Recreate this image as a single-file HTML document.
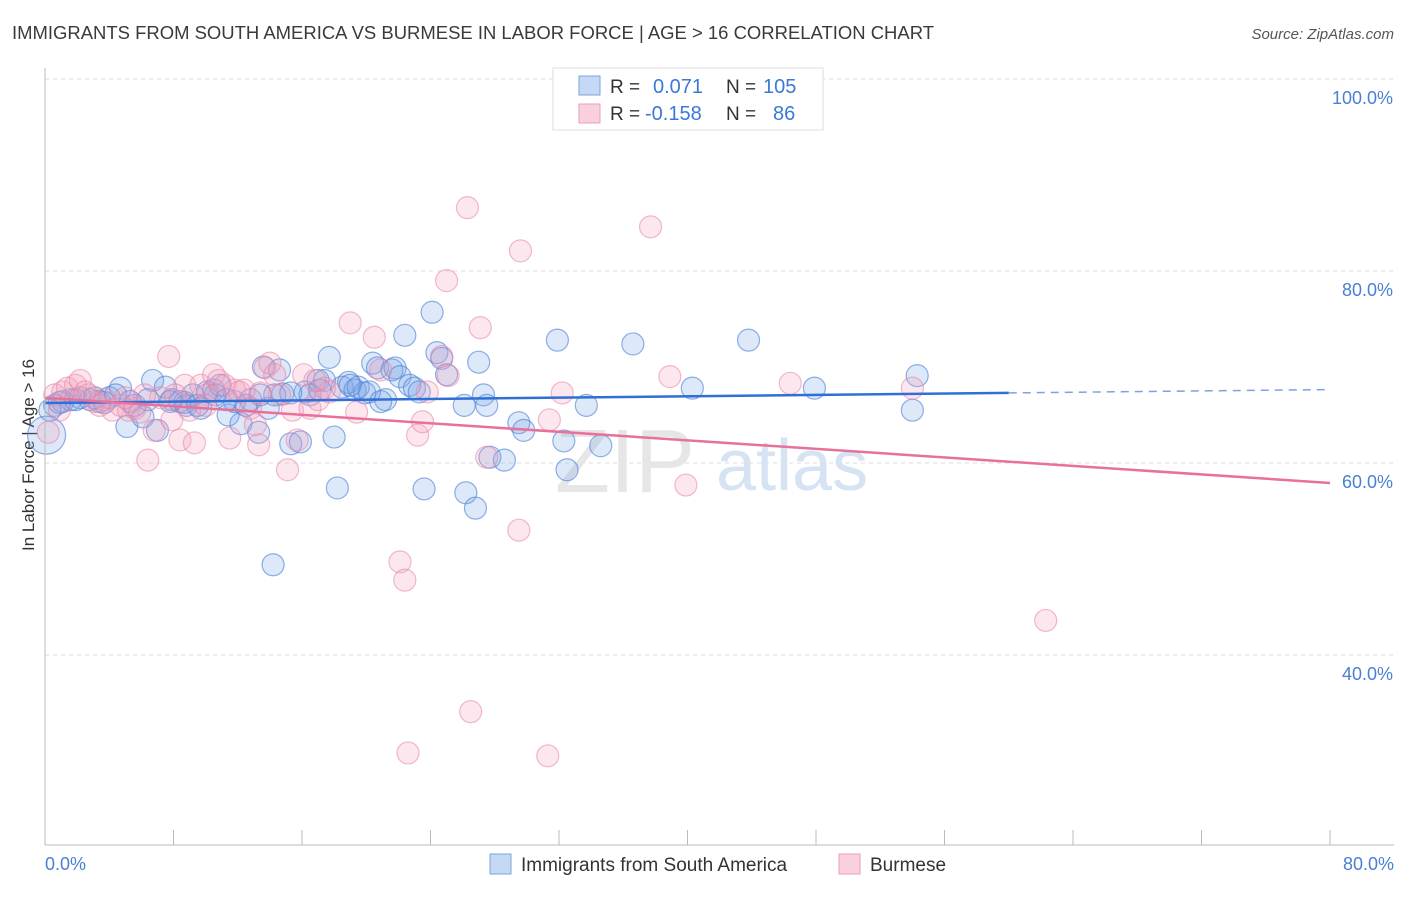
<!DOCTYPE html>
<html><head><meta charset="utf-8">
<style>
body{margin:0;background:#fff;font-family:"Liberation Sans",sans-serif;}
svg text{font-family:"Liberation Sans",sans-serif;}
</style></head>
<body>
<svg id="chart" width="1406" height="892" xmlns="http://www.w3.org/2000/svg">
<text x="12" y="39" font-size="18" fill="#3a3a3a" textLength="922" lengthAdjust="spacingAndGlyphs">IMMIGRANTS FROM SOUTH AMERICA VS BURMESE IN LABOR FORCE | AGE &gt; 16 CORRELATION CHART</text>
<text x="1394" y="39" font-size="15" fill="#555" font-style="italic" text-anchor="end">Source: ZipAtlas.com</text>
<text transform="translate(34,455) rotate(-90)" font-size="17" fill="#333" text-anchor="middle">In Labor Force | Age &gt; 16</text>
<g id="grid"></g>
<g><text x="555" y="492" font-size="90" fill="#e6e6e6" font-family="Liberation Serif,serif">ZIP</text><text x="716" y="490" font-size="72" fill="#d5e3f3">atlas</text></g>
<g id="pts"></g>
<g id="lines"></g>
<line x1="45" y1="68" x2="45" y2="845" stroke="#bbb"/>
<line x1="45" y1="845" x2="1394" y2="845" stroke="#bbb"/>
<g id="ticks"></g>
<text x="45" y="870" font-size="18" fill="#4a7fd4">0.0%</text>
<text x="1394" y="870" font-size="18" fill="#4a7fd4" text-anchor="end">80.0%</text>
<g>
<rect x="553" y="68" width="270" height="62" fill="#fff" stroke="#ddd"/>
<rect x="579" y="76" width="21" height="19" fill="#c5d9f5" stroke="#7aa3e0"/>
<rect x="579" y="104" width="21" height="19" fill="#f9d0dc" stroke="#eba1b9"/>
<text x="610" y="93" font-size="19" fill="#333">R =</text>
<text x="653" y="93" font-size="20" fill="#3b78d8">0.071</text>
<text x="726" y="93" font-size="19" fill="#333">N =</text>
<text x="763" y="93" font-size="20" fill="#3b78d8">105</text>
<text x="610" y="120" font-size="19" fill="#333">R =</text>
<text x="645" y="120" font-size="20" fill="#3b78d8">-0.158</text>
<text x="726" y="120" font-size="19" fill="#333">N =</text>
<text x="773" y="120" font-size="20" fill="#3b78d8">86</text>
</g>
<g>
<rect x="490" y="854" width="21" height="20" fill="#c5d9f5" stroke="#7aa3e0"/>
<text x="521" y="871" font-size="19" fill="#333">Immigrants from South America</text>
<rect x="839" y="854" width="21" height="20" fill="#f9d0dc" stroke="#eba1b9"/>
<text x="870" y="871" font-size="19" fill="#333">Burmese</text>
</g>
</svg>
<script>
const yTicks=[100,80,60,40];
const yTickLabels=["100.0%","80.0%","60.0%","40.0%"];
const xTicks=[0,8,16,24,32,40,48,56,64,72,80];
const blueX=[0.6,1.1,1.6,2.2,2.8,3.4,4.0,4.7,5.1,5.6,6.1,6.7,7.0,7.5,7.9,8.4,8.8,9.2,9.7,10.1,10.5,10.9,11.4,11.8,12.2,12.8,13.3,13.6,13.9,14.6,14.8,15.3,15.9,16.2,17.0,17.4,17.7,18.0,18.2,18.5,18.9,19.3,19.5,19.9,20.4,20.7,21.2,21.6,21.8,22.1,22.4,22.7,23.0,23.3,23.6,24.1,24.4,24.7,25.0,26.1,26.2,26.8,27.0,27.3,27.5,27.7,28.6,29.5,29.8,31.9,32.3,32.5,33.7,34.6,36.6,40.3,43.8,47.9,54.0,54.3,14.2,0.3,0.9,1.9,3.1,3.7,4.4,5.3,6.4,7.8,8.7,9.5,10.6,12.5,14.3,16.5,19.0,20.2,20.9,0.1,17.1,15.3,13.4,11.3];
const blueY=[66.0,66.4,66.6,66.8,66.6,66.4,66.8,67.8,63.8,66.0,64.8,68.6,63.4,67.9,66.6,66.4,66.0,67.1,65.7,67.4,67.6,68.1,65.0,66.4,64.1,66.6,63.2,70.0,65.7,69.7,67.2,62.0,62.2,67.4,68.6,68.6,71.0,62.7,57.4,67.9,68.4,67.6,67.9,67.3,70.4,69.9,66.6,69.7,69.9,69.0,73.3,68.1,67.8,67.4,57.3,75.7,71.5,70.9,69.2,66.0,56.9,55.3,70.5,67.1,66.0,60.6,60.3,64.2,63.4,72.8,62.3,59.3,66.0,61.8,72.4,67.8,72.8,67.8,65.5,69.1,49.4,65.5,66.3,66.6,66.8,66.3,67.1,66.4,66.6,66.4,66.3,66.0,67.1,66.0,67.1,67.1,68.1,67.4,66.4,62.9,67.6,67.3,67.1,66.6];
const pinkX=[0.2,0.6,1.1,1.4,1.9,2.2,2.7,3.1,3.7,4.2,4.7,5.2,5.6,5.9,6.4,6.8,7.2,7.7,7.9,8.4,8.7,9.0,9.3,9.7,10.1,10.5,10.8,11.2,11.5,11.8,12.1,12.4,12.8,13.1,13.3,13.7,14.0,14.3,14.6,15.1,15.4,15.7,16.1,16.5,17.0,17.4,17.7,19.0,19.4,20.5,20.9,22.1,22.4,22.6,23.2,23.5,23.8,24.7,25.0,25.1,26.3,26.5,27.1,27.5,29.5,29.6,31.3,31.4,32.2,37.7,38.9,39.9,46.4,54.0,62.3,0.9,2.5,3.4,5.0,6.2,8.1,10.0,13.4,16.8];
const pinkY=[63.2,67.1,67.4,67.8,68.1,68.6,67.1,66.4,66.6,65.5,66.0,65.5,65.7,65.3,60.3,63.4,66.8,71.1,64.5,62.4,68.1,65.5,62.1,68.1,67.1,69.2,68.6,68.1,62.6,67.6,67.4,67.6,65.7,64.0,61.9,69.9,70.4,69.2,67.1,59.3,65.5,62.4,69.2,65.7,66.6,67.8,67.4,74.6,65.3,73.1,69.7,49.7,47.8,29.8,62.9,64.3,67.4,71.1,79.0,69.1,86.6,34.1,74.1,60.6,53.0,82.1,29.5,64.5,67.3,84.6,69.0,57.7,68.3,67.8,43.6,65.5,67.4,66.0,66.8,67.1,67.1,66.0,67.3,68.6];
const blueTrend=[66.25,0.0175];
const pinkTrend=[66.8,-0.111];
const NS="http://www.w3.org/2000/svg";
const sx=v=>45+v*(1285/80);
const sy=v=>79+(100-v)*9.6;
function mk(tag,attrs,parent){const e=document.createElementNS(NS,tag);for(const k in attrs)e.setAttribute(k,attrs[k]);parent.appendChild(e);return e;}
const grid=document.getElementById('grid'),ticks=document.getElementById('ticks'),pts=document.getElementById('pts'),lines=document.getElementById('lines');
yTicks.forEach((t,i)=>{
 const l=mk('line',{x1:45,x2:1394,y1:sy(t),y2:sy(t),stroke:'#ddd','stroke-dasharray':'4,4'},grid);
 
 
 const tx=mk('text',{x:1393,y:sy(t)+25,'font-size':18,fill:'#4a7fd4','text-anchor':'end'},ticks);
 tx.textContent=yTickLabels[i];
 
 
});
xTicks.forEach(t=>{
 const l=mk('line',{x1:sx(t),x2:sx(t),y1:830,y2:845,stroke:'#bbb'},ticks);
 
 
});
blueX.forEach((x,i)=>{
 const r=(x<0.2)?19:11;
 const c=mk('circle',{cx:sx(x),cy:sy(blueY[i]),r:r,fill:'rgba(120,165,230,0.25)',stroke:'rgba(70,125,215,0.6)','stroke-width':1.2},pts);
 
 
});
pinkX.forEach((x,i)=>{
 const c=mk('circle',{cx:sx(x),cy:sy(pinkY[i]),r:11,fill:'rgba(245,160,188,0.25)',stroke:'rgba(232,130,165,0.55)','stroke-width':1.2},pts);
 
 
});
const bf=x=>blueTrend[0]+blueTrend[1]*x, pf=x=>pinkTrend[0]+pinkTrend[1]*x;
let l1=mk('line',{x1:sx(0),y1:sy(bf(0)),x2:sx(60),y2:sy(bf(60)),stroke:'#2f6fd6','stroke-width':2.5},lines);


let l2=mk('line',{x1:sx(60),y1:sy(bf(60)),x2:sx(80),y2:sy(bf(80)),stroke:'#7aa3e0','stroke-width':1.5,'stroke-dasharray':'8,6'},lines);


let l3=mk('line',{x1:sx(0),y1:sy(pf(0)),x2:sx(80),y2:sy(pf(80)),stroke:'#e8709a','stroke-width':2.5},lines);


</script>
</body></html>
